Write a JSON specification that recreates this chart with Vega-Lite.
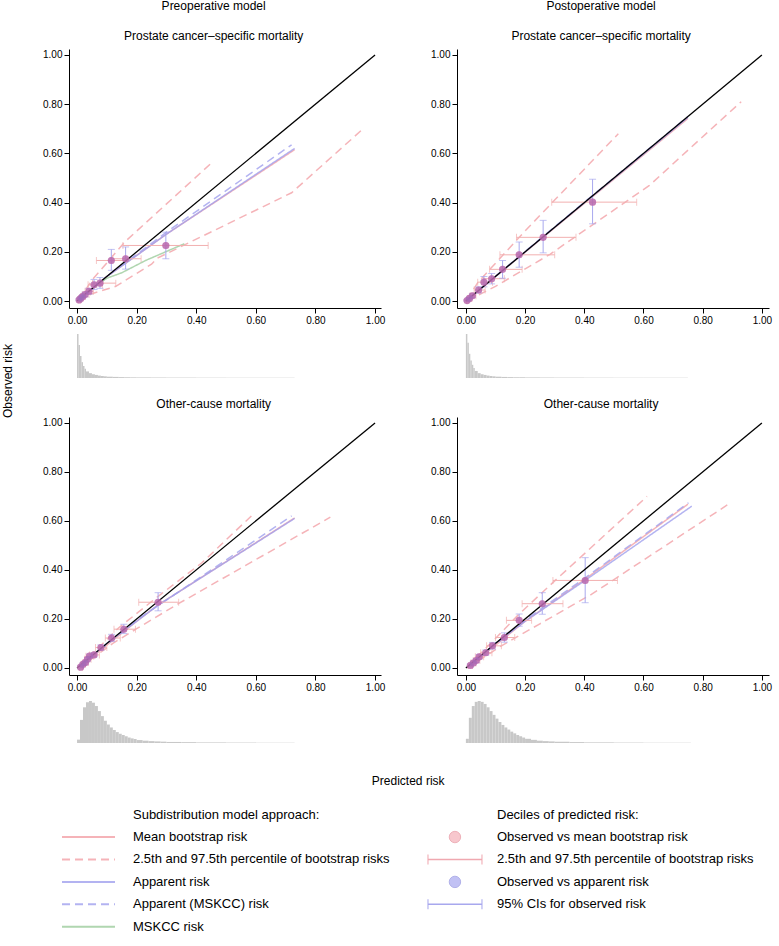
{
"$schema": "https://vega.github.io/schema/vega-lite/v6.json",
"padding": 0,
"background": "white",
"config": {
  "font": "Liberation Sans, Arial, sans-serif",
  "view": {"stroke": null},
  "text": {"color": "#000"},
  "axis": {"grid": false, "domainColor": "#000", "tickColor": "#000", "labelColor": "#000", "labelFontSize": 10, "tickSize": 5, "labelPadding": 2, "domainWidth": 1, "tickWidth": 1},
  "title": {"fontSize": 12, "fontWeight": "normal", "color": "#000", "anchor": "middle", "frame": "bounds", "offset": 6}
},
"datasets": {
  "diag": [{"x": 0, "y": 0}, {"x": 1, "y": 1}],
  "curves": [
    {"p":"A","s":"m","id":"m","x":0.005,"y":0.004},{"p":"A","s":"m","id":"m","x":0.1,"y":0.1},{"p":"A","s":"m","id":"m","x":0.3,"y":0.272},{"p":"A","s":"m","id":"m","x":0.73,"y":0.615},
    {"p":"A","s":"q","id":"lo","x":0.004,"y":0.002},{"p":"A","s":"q","id":"lo","x":0.05,"y":0.03},{"p":"A","s":"q","id":"lo","x":0.13,"y":0.06},{"p":"A","s":"q","id":"lo","x":0.25,"y":0.15},{"p":"A","s":"q","id":"lo","x":0.27,"y":0.175},{"p":"A","s":"q","id":"lo","x":0.72,"y":0.44},{"p":"A","s":"q","id":"lo","x":0.96,"y":0.7},
    {"p":"A","s":"q","id":"hi","x":0.004,"y":0.004},{"p":"A","s":"q","id":"hi","x":0.02,"y":0.03},{"p":"A","s":"q","id":"hi","x":0.05,"y":0.085},{"p":"A","s":"q","id":"hi","x":0.16,"y":0.24},{"p":"A","s":"q","id":"hi","x":0.45,"y":0.56},
    {"p":"A","s":"a","id":"a","x":0.005,"y":0.004},{"p":"A","s":"a","id":"a","x":0.05,"y":0.05},{"p":"A","s":"a","id":"a","x":0.1,"y":0.1},{"p":"A","s":"a","id":"a","x":0.2,"y":0.185},{"p":"A","s":"a","id":"a","x":0.3,"y":0.272},{"p":"A","s":"a","id":"a","x":0.73,"y":0.62},
    {"p":"A","s":"am","id":"am","x":0.005,"y":0.005},{"p":"A","s":"am","id":"am","x":0.1,"y":0.1},{"p":"A","s":"am","id":"am","x":0.3,"y":0.28},{"p":"A","s":"am","id":"am","x":0.72,"y":0.635},
    {"p":"A","s":"k","id":"k","x":0.005,"y":0.005},{"p":"A","s":"k","id":"k","x":0.05,"y":0.05},{"p":"A","s":"k","id":"k","x":0.1,"y":0.093},{"p":"A","s":"k","id":"k","x":0.15,"y":0.115},{"p":"A","s":"k","id":"k","x":0.23,"y":0.165},{"p":"A","s":"k","id":"k","x":0.36,"y":0.233},

    {"p":"B","s":"m","id":"m","x":0.003,"y":0.003},{"p":"B","s":"m","id":"m","x":0.3,"y":0.298},{"p":"B","s":"m","id":"m","x":0.75,"y":0.742},
    {"p":"B","s":"q","id":"lo","x":0.005,"y":0.002},{"p":"B","s":"q","id":"lo","x":0.1,"y":0.06},{"p":"B","s":"q","id":"lo","x":0.284,"y":0.19},{"p":"B","s":"q","id":"lo","x":0.62,"y":0.47},{"p":"B","s":"q","id":"lo","x":0.93,"y":0.81},
    {"p":"B","s":"q","id":"hi","x":0.003,"y":0.004},{"p":"B","s":"q","id":"hi","x":0.04,"y":0.075},{"p":"B","s":"q","id":"hi","x":0.2,"y":0.285},{"p":"B","s":"q","id":"hi","x":0.515,"y":0.68},
    {"p":"B","s":"a","id":"a","x":0.003,"y":0.003},{"p":"B","s":"a","id":"a","x":0.3,"y":0.3},{"p":"B","s":"a","id":"a","x":0.75,"y":0.746},
    {"p":"B","s":"am","id":"am","x":0.003,"y":0.003},{"p":"B","s":"am","id":"am","x":0.3,"y":0.302},{"p":"B","s":"am","id":"am","x":0.75,"y":0.75},

    {"p":"C","s":"m","id":"m","x":0.008,"y":0.003},{"p":"C","s":"m","id":"m","x":0.2,"y":0.19},{"p":"C","s":"m","id":"m","x":0.27,"y":0.255},{"p":"C","s":"m","id":"m","x":0.73,"y":0.612},
    {"p":"C","s":"q","id":"lo","x":0.008,"y":0.0},{"p":"C","s":"q","id":"lo","x":0.12,"y":0.1},{"p":"C","s":"q","id":"lo","x":0.2,"y":0.16},{"p":"C","s":"q","id":"lo","x":0.34,"y":0.262},{"p":"C","s":"q","id":"lo","x":0.85,"y":0.615},
    {"p":"C","s":"q","id":"hi","x":0.008,"y":0.005},{"p":"C","s":"q","id":"hi","x":0.14,"y":0.164},{"p":"C","s":"q","id":"hi","x":0.27,"y":0.29},{"p":"C","s":"q","id":"hi","x":0.42,"y":0.43},{"p":"C","s":"q","id":"hi","x":0.59,"y":0.626},
    {"p":"C","s":"a","id":"a","x":0.008,"y":0.003},{"p":"C","s":"a","id":"a","x":0.1,"y":0.1},{"p":"C","s":"a","id":"a","x":0.2,"y":0.19},{"p":"C","s":"a","id":"a","x":0.27,"y":0.255},{"p":"C","s":"a","id":"a","x":0.73,"y":0.61},
    {"p":"C","s":"am","id":"am","x":0.008,"y":0.003},{"p":"C","s":"am","id":"am","x":0.2,"y":0.195},{"p":"C","s":"am","id":"am","x":0.72,"y":0.62},

    {"p":"D","s":"m","id":"m","x":0.01,"y":0.005},{"p":"D","s":"m","id":"m","x":0.2,"y":0.19},{"p":"D","s":"m","id":"m","x":0.4,"y":0.36},{"p":"D","s":"m","id":"m","x":0.75,"y":0.668},
    {"p":"D","s":"q","id":"lo","x":0.005,"y":0.0},{"p":"D","s":"q","id":"lo","x":0.12,"y":0.09},{"p":"D","s":"q","id":"lo","x":0.25,"y":0.18},{"p":"D","s":"q","id":"lo","x":0.424,"y":0.3},{"p":"D","s":"q","id":"lo","x":0.883,"y":0.665},
    {"p":"D","s":"q","id":"hi","x":0.005,"y":0.005},{"p":"D","s":"q","id":"hi","x":0.1,"y":0.12},{"p":"D","s":"q","id":"hi","x":0.18,"y":0.22},{"p":"D","s":"q","id":"hi","x":0.3,"y":0.355},{"p":"D","s":"q","id":"hi","x":0.612,"y":0.7},
    {"p":"D","s":"a","id":"a","x":0.01,"y":0.005},{"p":"D","s":"a","id":"a","x":0.1,"y":0.1},{"p":"D","s":"a","id":"a","x":0.2,"y":0.19},{"p":"D","s":"a","id":"a","x":0.4,"y":0.355},{"p":"D","s":"a","id":"a","x":0.763,"y":0.66},
    {"p":"D","s":"am","id":"am","x":0.01,"y":0.006},{"p":"D","s":"am","id":"am","x":0.2,"y":0.195},{"p":"D","s":"am","id":"am","x":0.4,"y":0.365},{"p":"D","s":"am","id":"am","x":0.752,"y":0.674}
  ],
  "dec": [
    {"p":"A","x":0.007,"y":0.005,"xlo":0.004,"xhi":0.012,"ylo":0.002,"yhi":0.009},
    {"p":"A","x":0.013,"y":0.012,"xlo":0.008,"xhi":0.02,"ylo":0.007,"yhi":0.017},
    {"p":"A","x":0.019,"y":0.019,"xlo":0.012,"xhi":0.028,"ylo":0.012,"yhi":0.026},
    {"p":"A","x":0.027,"y":0.027,"xlo":0.018,"xhi":0.04,"ylo":0.018,"yhi":0.036},
    {"p":"A","x":0.04,"y":0.04,"xlo":0.027,"xhi":0.055,"ylo":0.028,"yhi":0.052},
    {"p":"A","x":0.057,"y":0.066,"xlo":0.037,"xhi":0.085,"ylo":0.047,"yhi":0.088},
    {"p":"A","x":0.077,"y":0.073,"xlo":0.052,"xhi":0.13,"ylo":0.052,"yhi":0.096},
    {"p":"A","x":0.115,"y":0.165,"xlo":0.065,"xhi":0.165,"ylo":0.125,"yhi":0.21},
    {"p":"A","x":0.163,"y":0.172,"xlo":0.12,"xhi":0.215,"ylo":0.13,"yhi":0.22},
    {"p":"A","x":0.298,"y":0.226,"xlo":0.154,"xhi":0.44,"ylo":0.172,"yhi":0.28},

    {"p":"B","x":0.004,"y":0.002,"xlo":0.002,"xhi":0.008,"ylo":0.0,"yhi":0.006},
    {"p":"B","x":0.012,"y":0.011,"xlo":0.007,"xhi":0.02,"ylo":0.006,"yhi":0.017},
    {"p":"B","x":0.022,"y":0.022,"xlo":0.014,"xhi":0.034,"ylo":0.015,"yhi":0.03},
    {"p":"B","x":0.043,"y":0.045,"xlo":0.028,"xhi":0.065,"ylo":0.033,"yhi":0.058},
    {"p":"B","x":0.061,"y":0.077,"xlo":0.04,"xhi":0.09,"ylo":0.058,"yhi":0.1},
    {"p":"B","x":0.087,"y":0.091,"xlo":0.06,"xhi":0.13,"ylo":0.07,"yhi":0.112},
    {"p":"B","x":0.124,"y":0.129,"xlo":0.08,"xhi":0.19,"ylo":0.093,"yhi":0.165},
    {"p":"B","x":0.18,"y":0.188,"xlo":0.115,"xhi":0.3,"ylo":0.138,"yhi":0.24},
    {"p":"B","x":0.261,"y":0.259,"xlo":0.171,"xhi":0.372,"ylo":0.196,"yhi":0.328},
    {"p":"B","x":0.428,"y":0.402,"xlo":0.29,"xhi":0.577,"ylo":0.314,"yhi":0.495},

    {"p":"C","x":0.012,"y":0.003,"xlo":0.008,"xhi":0.018,"ylo":0.0,"yhi":0.008},
    {"p":"C","x":0.02,"y":0.015,"xlo":0.014,"xhi":0.028,"ylo":0.01,"yhi":0.021},
    {"p":"C","x":0.028,"y":0.022,"xlo":0.02,"xhi":0.038,"ylo":0.016,"yhi":0.028},
    {"p":"C","x":0.035,"y":0.035,"xlo":0.025,"xhi":0.047,"ylo":0.028,"yhi":0.042},
    {"p":"C","x":0.042,"y":0.048,"xlo":0.03,"xhi":0.056,"ylo":0.04,"yhi":0.056},
    {"p":"C","x":0.057,"y":0.053,"xlo":0.042,"xhi":0.075,"ylo":0.045,"yhi":0.062},
    {"p":"C","x":0.08,"y":0.083,"xlo":0.062,"xhi":0.1,"ylo":0.072,"yhi":0.094},
    {"p":"C","x":0.116,"y":0.122,"xlo":0.095,"xhi":0.145,"ylo":0.108,"yhi":0.137},
    {"p":"C","x":0.157,"y":0.158,"xlo":0.124,"xhi":0.196,"ylo":0.14,"yhi":0.178},
    {"p":"C","x":0.272,"y":0.268,"xlo":0.207,"xhi":0.341,"ylo":0.233,"yhi":0.307},

    {"p":"D","x":0.015,"y":0.01,"xlo":0.01,"xhi":0.022,"ylo":0.004,"yhi":0.016},
    {"p":"D","x":0.025,"y":0.02,"xlo":0.017,"xhi":0.034,"ylo":0.013,"yhi":0.027},
    {"p":"D","x":0.035,"y":0.03,"xlo":0.025,"xhi":0.047,"ylo":0.022,"yhi":0.038},
    {"p":"D","x":0.045,"y":0.045,"xlo":0.032,"xhi":0.06,"ylo":0.036,"yhi":0.055},
    {"p":"D","x":0.067,"y":0.062,"xlo":0.05,"xhi":0.088,"ylo":0.052,"yhi":0.073},
    {"p":"D","x":0.09,"y":0.09,"xlo":0.07,"xhi":0.12,"ylo":0.077,"yhi":0.104},
    {"p":"D","x":0.13,"y":0.124,"xlo":0.1,"xhi":0.165,"ylo":0.105,"yhi":0.143},
    {"p":"D","x":0.18,"y":0.194,"xlo":0.137,"xhi":0.222,"ylo":0.17,"yhi":0.22},
    {"p":"D","x":0.258,"y":0.262,"xlo":0.19,"xhi":0.328,"ylo":0.219,"yhi":0.307},
    {"p":"D","x":0.403,"y":0.357,"xlo":0.294,"xhi":0.512,"ylo":0.266,"yhi":0.45}
  ],
  "hist": [
    {"p":"A","x0":0,"x1":0.005,"n":100},{"p":"A","x0":0.005,"x1":0.01,"n":75},{"p":"A","x0":0.01,"x1":0.015,"n":50},{"p":"A","x0":0.015,"x1":0.02,"n":36},{"p":"A","x0":0.02,"x1":0.025,"n":27},{"p":"A","x0":0.025,"x1":0.03,"n":21},{"p":"A","x0":0.03,"x1":0.04,"n":15},{"p":"A","x0":0.04,"x1":0.05,"n":11},{"p":"A","x0":0.05,"x1":0.06,"n":8.5},{"p":"A","x0":0.06,"x1":0.07,"n":7},{"p":"A","x0":0.07,"x1":0.08,"n":5.5},{"p":"A","x0":0.08,"x1":0.09,"n":4.5},{"p":"A","x0":0.09,"x1":0.1,"n":3.8},{"p":"A","x0":0.1,"x1":0.12,"n":3},{"p":"A","x0":0.12,"x1":0.14,"n":2.5},{"p":"A","x0":0.14,"x1":0.16,"n":2},{"p":"A","x0":0.16,"x1":0.18,"n":1.7},{"p":"A","x0":0.18,"x1":0.2,"n":1.5},{"p":"A","x0":0.2,"x1":0.25,"n":1.3},{"p":"A","x0":0.25,"x1":0.3,"n":1.1},{"p":"A","x0":0.3,"x1":0.4,"n":0.9},{"p":"A","x0":0.4,"x1":0.5,"n":0.7},{"p":"A","x0":0.5,"x1":0.6,"n":0.6},{"p":"A","x0":0.6,"x1":0.73,"n":0.5},
    {"p":"B","x0":0,"x1":0.005,"n":100},{"p":"B","x0":0.005,"x1":0.01,"n":80},{"p":"B","x0":0.01,"x1":0.015,"n":55},{"p":"B","x0":0.015,"x1":0.02,"n":40},{"p":"B","x0":0.02,"x1":0.025,"n":30},{"p":"B","x0":0.025,"x1":0.03,"n":23},{"p":"B","x0":0.03,"x1":0.04,"n":16},{"p":"B","x0":0.04,"x1":0.05,"n":11},{"p":"B","x0":0.05,"x1":0.06,"n":8.5},{"p":"B","x0":0.06,"x1":0.07,"n":7},{"p":"B","x0":0.07,"x1":0.08,"n":5.5},{"p":"B","x0":0.08,"x1":0.09,"n":4.5},{"p":"B","x0":0.09,"x1":0.1,"n":3.8},{"p":"B","x0":0.1,"x1":0.12,"n":3},{"p":"B","x0":0.12,"x1":0.14,"n":2.4},{"p":"B","x0":0.14,"x1":0.16,"n":2},{"p":"B","x0":0.16,"x1":0.18,"n":1.7},{"p":"B","x0":0.18,"x1":0.2,"n":1.5},{"p":"B","x0":0.2,"x1":0.25,"n":1.3},{"p":"B","x0":0.25,"x1":0.3,"n":1.1},{"p":"B","x0":0.3,"x1":0.4,"n":0.9},{"p":"B","x0":0.4,"x1":0.5,"n":0.7},{"p":"B","x0":0.5,"x1":0.6,"n":0.6},{"p":"B","x0":0.6,"x1":0.75,"n":0.5},
    {"p":"C","x0":0,"x1":0.01,"n":8},{"p":"C","x0":0.01,"x1":0.02,"n":55},{"p":"C","x0":0.02,"x1":0.03,"n":85},{"p":"C","x0":0.03,"x1":0.04,"n":97},{"p":"C","x0":0.04,"x1":0.05,"n":100},{"p":"C","x0":0.05,"x1":0.06,"n":96},{"p":"C","x0":0.06,"x1":0.07,"n":88},{"p":"C","x0":0.07,"x1":0.08,"n":76},{"p":"C","x0":0.08,"x1":0.09,"n":64},{"p":"C","x0":0.09,"x1":0.1,"n":53},{"p":"C","x0":0.1,"x1":0.11,"n":44},{"p":"C","x0":0.11,"x1":0.12,"n":37},{"p":"C","x0":0.12,"x1":0.13,"n":31},{"p":"C","x0":0.13,"x1":0.14,"n":26},{"p":"C","x0":0.14,"x1":0.15,"n":22},{"p":"C","x0":0.15,"x1":0.16,"n":19},{"p":"C","x0":0.16,"x1":0.17,"n":16},{"p":"C","x0":0.17,"x1":0.18,"n":13},{"p":"C","x0":0.18,"x1":0.19,"n":11},{"p":"C","x0":0.19,"x1":0.2,"n":9.5},{"p":"C","x0":0.2,"x1":0.22,"n":7},{"p":"C","x0":0.22,"x1":0.24,"n":5.5},{"p":"C","x0":0.24,"x1":0.26,"n":4.5},{"p":"C","x0":0.26,"x1":0.28,"n":3.8},{"p":"C","x0":0.28,"x1":0.3,"n":3.2},{"p":"C","x0":0.3,"x1":0.35,"n":2.5},{"p":"C","x0":0.35,"x1":0.4,"n":2},{"p":"C","x0":0.4,"x1":0.5,"n":1.4},{"p":"C","x0":0.5,"x1":0.6,"n":1},{"p":"C","x0":0.6,"x1":0.73,"n":0.6},
    {"p":"D","x0":0,"x1":0.01,"n":10},{"p":"D","x0":0.01,"x1":0.02,"n":60},{"p":"D","x0":0.02,"x1":0.03,"n":88},{"p":"D","x0":0.03,"x1":0.04,"n":98},{"p":"D","x0":0.04,"x1":0.05,"n":100},{"p":"D","x0":0.05,"x1":0.06,"n":98},{"p":"D","x0":0.06,"x1":0.07,"n":93},{"p":"D","x0":0.07,"x1":0.08,"n":85},{"p":"D","x0":0.08,"x1":0.09,"n":76},{"p":"D","x0":0.09,"x1":0.1,"n":67},{"p":"D","x0":0.1,"x1":0.11,"n":58},{"p":"D","x0":0.11,"x1":0.12,"n":50},{"p":"D","x0":0.12,"x1":0.13,"n":43},{"p":"D","x0":0.13,"x1":0.14,"n":37},{"p":"D","x0":0.14,"x1":0.15,"n":32},{"p":"D","x0":0.15,"x1":0.16,"n":27},{"p":"D","x0":0.16,"x1":0.17,"n":23},{"p":"D","x0":0.17,"x1":0.18,"n":19},{"p":"D","x0":0.18,"x1":0.19,"n":16},{"p":"D","x0":0.19,"x1":0.2,"n":13},{"p":"D","x0":0.2,"x1":0.22,"n":10},{"p":"D","x0":0.22,"x1":0.24,"n":7.5},{"p":"D","x0":0.24,"x1":0.26,"n":5.5},{"p":"D","x0":0.26,"x1":0.28,"n":4.5},{"p":"D","x0":0.28,"x1":0.3,"n":3.8},{"p":"D","x0":0.3,"x1":0.35,"n":3},{"p":"D","x0":0.35,"x1":0.4,"n":2.2},{"p":"D","x0":0.4,"x1":0.5,"n":1.5},{"p":"D","x0":0.5,"x1":0.6,"n":1},{"p":"D","x0":0.6,"x1":0.76,"n":0.6}
  ],
  "leg": [
    {"c":"L","r":0,"label":"Subdistribution model approach:"},
    {"c":"L","r":1,"s":"m","label":"Mean bootstrap risk"},
    {"c":"L","r":2,"s":"q","label":"2.5th and 97.5th percentile of bootstrap risks"},
    {"c":"L","r":3,"s":"a","label":"Apparent risk"},
    {"c":"L","r":4,"s":"am","label":"Apparent (MSKCC) risk"},
    {"c":"L","r":5,"s":"k","label":"MSKCC risk"},
    {"c":"R","r":0,"label":"Deciles of predicted risk:"},
    {"c":"R","r":1,"k":"pc","label":"Observed vs mean bootstrap risk"},
    {"c":"R","r":2,"k":"pb","label":"2.5th and 97.5th percentile of bootstrap risks"},
    {"c":"R","r":3,"k":"bc","label":"Observed vs apparent risk"},
    {"c":"R","r":4,"k":"bb","label":"95% CIs for observed risk"}
  ]
},
"spacing": 20,
"vconcat": [
  {
    "spacing": 26,
    "hconcat": [
      {"width": 16, "height": 664, "data": {"values": [{"t": "Observed risk"}]},
       "mark": {"type": "text", "angle": 270, "fontSize": 12, "align": "center", "baseline": "middle"},
       "encoding": {"text": {"field": "t"}}},
      {
        "spacing": 45,
        "hconcat": [
          {
            "title": {"text": "Preoperative model", "offset": 17},
            "spacing": 20,
            "vconcat": [
              {
                "spacing": 9,
                "vconcat": [
                  {
                    "title": {"text": "Prostate cancer–specific mortality"},
                    "width": 312, "height": 259,
                    "layer": [
                      {"data": {"name": "curves"}, "transform": [{"filter": "datum.p==='A'"}],
                       "mark": {"type": "line", "strokeWidth": 1.5, "opacity": 0.8},
                       "encoding": {
                         "x": {"field": "x", "type": "quantitative", "scale": {"domain": [-0.027, 1.02], "nice": false, "zero": false}, "axis": {"values": [0, 0.2, 0.4, 0.6, 0.8, 1], "format": ".2f"}, "title": null},
                         "y": {"field": "y", "type": "quantitative", "scale": {"domain": [-0.028, 1.024], "nice": false, "zero": false}, "axis": {"values": [0, 0.2, 0.4, 0.6, 0.8, 1], "format": ".2f"}, "title": null},
                         "color": {"field": "s", "type": "nominal", "scale": {"domain": ["m", "q", "a", "am", "k"], "range": ["#f2a0a6", "#f2a0a6", "#a0a0ee", "#a0a0ee", "#9ccc9c"]}, "legend": null},
                         "strokeDash": {"field": "s", "type": "nominal", "scale": {"domain": ["m", "q", "a", "am", "k"], "range": [[1, 0], [8, 5], [1, 0], [8, 5], [1, 0]]}, "legend": null},
                         "detail": {"field": "id", "type": "nominal"}}},
                      {"data": {"name": "dec"}, "transform": [{"filter": "datum.p==='A'"}], "mark": {"type": "rule", "color": "#f2b0b0", "strokeWidth": 1},
                       "encoding": {"x": {"field": "xlo", "type": "quantitative", "title": null}, "x2": {"field": "xhi"}, "y": {"field": "y", "type": "quantitative", "title": null}}},
                      {"data": {"name": "dec"}, "transform": [{"filter": "datum.p==='A'"}], "mark": {"type": "tick", "orient": "vertical", "color": "#f2b0b0", "size": 7, "thickness": 1},
                       "encoding": {"x": {"field": "xlo", "type": "quantitative", "title": null}, "y": {"field": "y", "type": "quantitative", "title": null}}},
                      {"data": {"name": "dec"}, "transform": [{"filter": "datum.p==='A'"}], "mark": {"type": "tick", "orient": "vertical", "color": "#f2b0b0", "size": 7, "thickness": 1},
                       "encoding": {"x": {"field": "xhi", "type": "quantitative", "title": null}, "y": {"field": "y", "type": "quantitative", "title": null}}},
                      {"data": {"name": "dec"}, "transform": [{"filter": "datum.p==='A'"}], "mark": {"type": "rule", "color": "#a8a8ee", "strokeWidth": 1},
                       "encoding": {"x": {"field": "x", "type": "quantitative", "title": null}, "y": {"field": "ylo", "type": "quantitative", "title": null}, "y2": {"field": "yhi"}}},
                      {"data": {"name": "dec"}, "transform": [{"filter": "datum.p==='A'"}], "mark": {"type": "tick", "orient": "horizontal", "color": "#a8a8ee", "size": 7, "thickness": 1},
                       "encoding": {"x": {"field": "x", "type": "quantitative", "title": null}, "y": {"field": "ylo", "type": "quantitative", "title": null}}},
                      {"data": {"name": "dec"}, "transform": [{"filter": "datum.p==='A'"}], "mark": {"type": "tick", "orient": "horizontal", "color": "#a8a8ee", "size": 7, "thickness": 1},
                       "encoding": {"x": {"field": "x", "type": "quantitative", "title": null}, "y": {"field": "yhi", "type": "quantitative", "title": null}}},
                      {"data": {"name": "diag"}, "mark": {"type": "line", "color": "#000", "strokeWidth": 1.3},
                       "encoding": {"x": {"field": "x", "type": "quantitative", "title": null}, "y": {"field": "y", "type": "quantitative", "title": null}}},
                      {"data": {"name": "dec"}, "transform": [{"filter": "datum.p==='A'"}], "mark": {"type": "point", "filled": true, "color": "#d8689c", "opacity": 0.8, "size": 50},
                       "encoding": {"x": {"field": "x", "type": "quantitative", "title": null}, "y": {"field": "y", "type": "quantitative", "title": null}}},
                      {"data": {"name": "dec"}, "transform": [{"filter": "datum.p==='A'"}], "mark": {"type": "point", "filled": true, "color": "#8a6cc8", "opacity": 0.35, "size": 50},
                       "encoding": {"x": {"field": "x", "type": "quantitative", "title": null}, "y": {"field": "y", "type": "quantitative", "title": null}}}
                    ]
                  },
                  {"width": 312, "height": 44, "data": {"name": "hist"}, "transform": [{"filter": "datum.p==='A'"}],
                   "mark": {"type": "rect", "color": "#c8c8c8"},
                   "encoding": {"x": {"field": "x0", "type": "quantitative", "scale": {"domain": [-0.027, 1.02], "nice": false, "zero": false}, "axis": null}, "x2": {"field": "x1"},
                     "y": {"field": "n", "type": "quantitative", "scale": {"domain": [0, 100], "nice": false}, "axis": null}, "y2": {"datum": 0}}}
                ]
              },
              {
                "spacing": 9,
                "vconcat": [
                  {
                    "title": {"text": "Other-cause mortality"},
                    "width": 312, "height": 258,
                    "layer": [
                      {"data": {"name": "curves"}, "transform": [{"filter": "datum.p==='C'"}],
                       "mark": {"type": "line", "strokeWidth": 1.5, "opacity": 0.8},
                       "encoding": {
                         "x": {"field": "x", "type": "quantitative", "scale": {"domain": [-0.027, 1.02], "nice": false, "zero": false}, "axis": {"values": [0, 0.2, 0.4, 0.6, 0.8, 1], "format": ".2f"}, "title": null},
                         "y": {"field": "y", "type": "quantitative", "scale": {"domain": [-0.029, 1.024], "nice": false, "zero": false}, "axis": {"values": [0, 0.2, 0.4, 0.6, 0.8, 1], "format": ".2f"}, "title": null},
                         "color": {"field": "s", "type": "nominal", "scale": {"domain": ["m", "q", "a", "am", "k"], "range": ["#f2a0a6", "#f2a0a6", "#a0a0ee", "#a0a0ee", "#9ccc9c"]}, "legend": null},
                         "strokeDash": {"field": "s", "type": "nominal", "scale": {"domain": ["m", "q", "a", "am", "k"], "range": [[1, 0], [8, 5], [1, 0], [8, 5], [1, 0]]}, "legend": null},
                         "detail": {"field": "id", "type": "nominal"}}},
                      {"data": {"name": "dec"}, "transform": [{"filter": "datum.p==='C'"}], "mark": {"type": "rule", "color": "#f2b0b0", "strokeWidth": 1},
                       "encoding": {"x": {"field": "xlo", "type": "quantitative", "title": null}, "x2": {"field": "xhi"}, "y": {"field": "y", "type": "quantitative", "title": null}}},
                      {"data": {"name": "dec"}, "transform": [{"filter": "datum.p==='C'"}], "mark": {"type": "tick", "orient": "vertical", "color": "#f2b0b0", "size": 7, "thickness": 1},
                       "encoding": {"x": {"field": "xlo", "type": "quantitative", "title": null}, "y": {"field": "y", "type": "quantitative", "title": null}}},
                      {"data": {"name": "dec"}, "transform": [{"filter": "datum.p==='C'"}], "mark": {"type": "tick", "orient": "vertical", "color": "#f2b0b0", "size": 7, "thickness": 1},
                       "encoding": {"x": {"field": "xhi", "type": "quantitative", "title": null}, "y": {"field": "y", "type": "quantitative", "title": null}}},
                      {"data": {"name": "dec"}, "transform": [{"filter": "datum.p==='C'"}], "mark": {"type": "rule", "color": "#a8a8ee", "strokeWidth": 1},
                       "encoding": {"x": {"field": "x", "type": "quantitative", "title": null}, "y": {"field": "ylo", "type": "quantitative", "title": null}, "y2": {"field": "yhi"}}},
                      {"data": {"name": "dec"}, "transform": [{"filter": "datum.p==='C'"}], "mark": {"type": "tick", "orient": "horizontal", "color": "#a8a8ee", "size": 7, "thickness": 1},
                       "encoding": {"x": {"field": "x", "type": "quantitative", "title": null}, "y": {"field": "ylo", "type": "quantitative", "title": null}}},
                      {"data": {"name": "dec"}, "transform": [{"filter": "datum.p==='C'"}], "mark": {"type": "tick", "orient": "horizontal", "color": "#a8a8ee", "size": 7, "thickness": 1},
                       "encoding": {"x": {"field": "x", "type": "quantitative", "title": null}, "y": {"field": "yhi", "type": "quantitative", "title": null}}},
                      {"data": {"name": "diag"}, "mark": {"type": "line", "color": "#000", "strokeWidth": 1.3},
                       "encoding": {"x": {"field": "x", "type": "quantitative", "title": null}, "y": {"field": "y", "type": "quantitative", "title": null}}},
                      {"data": {"name": "dec"}, "transform": [{"filter": "datum.p==='C'"}], "mark": {"type": "point", "filled": true, "color": "#d8689c", "opacity": 0.8, "size": 50},
                       "encoding": {"x": {"field": "x", "type": "quantitative", "title": null}, "y": {"field": "y", "type": "quantitative", "title": null}}},
                      {"data": {"name": "dec"}, "transform": [{"filter": "datum.p==='C'"}], "mark": {"type": "point", "filled": true, "color": "#8a6cc8", "opacity": 0.35, "size": 50},
                       "encoding": {"x": {"field": "x", "type": "quantitative", "title": null}, "y": {"field": "y", "type": "quantitative", "title": null}}}
                    ]
                  },
                  {"width": 312, "height": 42, "data": {"name": "hist"}, "transform": [{"filter": "datum.p==='C'"}],
                   "mark": {"type": "rect", "color": "#c8c8c8"},
                   "encoding": {"x": {"field": "x0", "type": "quantitative", "scale": {"domain": [-0.027, 1.02], "nice": false, "zero": false}, "axis": null}, "x2": {"field": "x1"},
                     "y": {"field": "n", "type": "quantitative", "scale": {"domain": [0, 100], "nice": false}, "axis": null}, "y2": {"datum": 0}}}
                ]
              }
            ]
          },
          {
            "title": {"text": "Postoperative model", "offset": 17},
            "spacing": 20,
            "vconcat": [
              {
                "spacing": 9,
                "vconcat": [
                  {
                    "title": {"text": "Prostate cancer–specific mortality"},
                    "width": 312, "height": 259,
                    "layer": [
                      {"data": {"name": "curves"}, "transform": [{"filter": "datum.p==='B'"}],
                       "mark": {"type": "line", "strokeWidth": 1.5, "opacity": 0.8},
                       "encoding": {
                         "x": {"field": "x", "type": "quantitative", "scale": {"domain": [-0.03, 1.024], "nice": false, "zero": false}, "axis": {"values": [0, 0.2, 0.4, 0.6, 0.8, 1], "format": ".2f"}, "title": null},
                         "y": {"field": "y", "type": "quantitative", "scale": {"domain": [-0.028, 1.024], "nice": false, "zero": false}, "axis": {"values": [0, 0.2, 0.4, 0.6, 0.8, 1], "format": ".2f"}, "title": null},
                         "color": {"field": "s", "type": "nominal", "scale": {"domain": ["m", "q", "a", "am", "k"], "range": ["#f2a0a6", "#f2a0a6", "#a0a0ee", "#a0a0ee", "#9ccc9c"]}, "legend": null},
                         "strokeDash": {"field": "s", "type": "nominal", "scale": {"domain": ["m", "q", "a", "am", "k"], "range": [[1, 0], [8, 5], [1, 0], [8, 5], [1, 0]]}, "legend": null},
                         "detail": {"field": "id", "type": "nominal"}}},
                      {"data": {"name": "dec"}, "transform": [{"filter": "datum.p==='B'"}], "mark": {"type": "rule", "color": "#f2b0b0", "strokeWidth": 1},
                       "encoding": {"x": {"field": "xlo", "type": "quantitative", "title": null}, "x2": {"field": "xhi"}, "y": {"field": "y", "type": "quantitative", "title": null}}},
                      {"data": {"name": "dec"}, "transform": [{"filter": "datum.p==='B'"}], "mark": {"type": "tick", "orient": "vertical", "color": "#f2b0b0", "size": 7, "thickness": 1},
                       "encoding": {"x": {"field": "xlo", "type": "quantitative", "title": null}, "y": {"field": "y", "type": "quantitative", "title": null}}},
                      {"data": {"name": "dec"}, "transform": [{"filter": "datum.p==='B'"}], "mark": {"type": "tick", "orient": "vertical", "color": "#f2b0b0", "size": 7, "thickness": 1},
                       "encoding": {"x": {"field": "xhi", "type": "quantitative", "title": null}, "y": {"field": "y", "type": "quantitative", "title": null}}},
                      {"data": {"name": "dec"}, "transform": [{"filter": "datum.p==='B'"}], "mark": {"type": "rule", "color": "#a8a8ee", "strokeWidth": 1},
                       "encoding": {"x": {"field": "x", "type": "quantitative", "title": null}, "y": {"field": "ylo", "type": "quantitative", "title": null}, "y2": {"field": "yhi"}}},
                      {"data": {"name": "dec"}, "transform": [{"filter": "datum.p==='B'"}], "mark": {"type": "tick", "orient": "horizontal", "color": "#a8a8ee", "size": 7, "thickness": 1},
                       "encoding": {"x": {"field": "x", "type": "quantitative", "title": null}, "y": {"field": "ylo", "type": "quantitative", "title": null}}},
                      {"data": {"name": "dec"}, "transform": [{"filter": "datum.p==='B'"}], "mark": {"type": "tick", "orient": "horizontal", "color": "#a8a8ee", "size": 7, "thickness": 1},
                       "encoding": {"x": {"field": "x", "type": "quantitative", "title": null}, "y": {"field": "yhi", "type": "quantitative", "title": null}}},
                      {"data": {"name": "diag"}, "mark": {"type": "line", "color": "#000", "strokeWidth": 1.3},
                       "encoding": {"x": {"field": "x", "type": "quantitative", "title": null}, "y": {"field": "y", "type": "quantitative", "title": null}}},
                      {"data": {"name": "dec"}, "transform": [{"filter": "datum.p==='B'"}], "mark": {"type": "point", "filled": true, "color": "#d8689c", "opacity": 0.8, "size": 50},
                       "encoding": {"x": {"field": "x", "type": "quantitative", "title": null}, "y": {"field": "y", "type": "quantitative", "title": null}}},
                      {"data": {"name": "dec"}, "transform": [{"filter": "datum.p==='B'"}], "mark": {"type": "point", "filled": true, "color": "#8a6cc8", "opacity": 0.35, "size": 50},
                       "encoding": {"x": {"field": "x", "type": "quantitative", "title": null}, "y": {"field": "y", "type": "quantitative", "title": null}}}
                    ]
                  },
                  {"width": 312, "height": 44, "data": {"name": "hist"}, "transform": [{"filter": "datum.p==='B'"}],
                   "mark": {"type": "rect", "color": "#c8c8c8"},
                   "encoding": {"x": {"field": "x0", "type": "quantitative", "scale": {"domain": [-0.03, 1.024], "nice": false, "zero": false}, "axis": null}, "x2": {"field": "x1"},
                     "y": {"field": "n", "type": "quantitative", "scale": {"domain": [0, 100], "nice": false}, "axis": null}, "y2": {"datum": 0}}}
                ]
              },
              {
                "spacing": 9,
                "vconcat": [
                  {
                    "title": {"text": "Other-cause mortality"},
                    "width": 312, "height": 258,
                    "layer": [
                      {"data": {"name": "curves"}, "transform": [{"filter": "datum.p==='D'"}],
                       "mark": {"type": "line", "strokeWidth": 1.5, "opacity": 0.8},
                       "encoding": {
                         "x": {"field": "x", "type": "quantitative", "scale": {"domain": [-0.03, 1.024], "nice": false, "zero": false}, "axis": {"values": [0, 0.2, 0.4, 0.6, 0.8, 1], "format": ".2f"}, "title": null},
                         "y": {"field": "y", "type": "quantitative", "scale": {"domain": [-0.029, 1.024], "nice": false, "zero": false}, "axis": {"values": [0, 0.2, 0.4, 0.6, 0.8, 1], "format": ".2f"}, "title": null},
                         "color": {"field": "s", "type": "nominal", "scale": {"domain": ["m", "q", "a", "am", "k"], "range": ["#f2a0a6", "#f2a0a6", "#a0a0ee", "#a0a0ee", "#9ccc9c"]}, "legend": null},
                         "strokeDash": {"field": "s", "type": "nominal", "scale": {"domain": ["m", "q", "a", "am", "k"], "range": [[1, 0], [8, 5], [1, 0], [8, 5], [1, 0]]}, "legend": null},
                         "detail": {"field": "id", "type": "nominal"}}},
                      {"data": {"name": "dec"}, "transform": [{"filter": "datum.p==='D'"}], "mark": {"type": "rule", "color": "#f2b0b0", "strokeWidth": 1},
                       "encoding": {"x": {"field": "xlo", "type": "quantitative", "title": null}, "x2": {"field": "xhi"}, "y": {"field": "y", "type": "quantitative", "title": null}}},
                      {"data": {"name": "dec"}, "transform": [{"filter": "datum.p==='D'"}], "mark": {"type": "tick", "orient": "vertical", "color": "#f2b0b0", "size": 7, "thickness": 1},
                       "encoding": {"x": {"field": "xlo", "type": "quantitative", "title": null}, "y": {"field": "y", "type": "quantitative", "title": null}}},
                      {"data": {"name": "dec"}, "transform": [{"filter": "datum.p==='D'"}], "mark": {"type": "tick", "orient": "vertical", "color": "#f2b0b0", "size": 7, "thickness": 1},
                       "encoding": {"x": {"field": "xhi", "type": "quantitative", "title": null}, "y": {"field": "y", "type": "quantitative", "title": null}}},
                      {"data": {"name": "dec"}, "transform": [{"filter": "datum.p==='D'"}], "mark": {"type": "rule", "color": "#a8a8ee", "strokeWidth": 1},
                       "encoding": {"x": {"field": "x", "type": "quantitative", "title": null}, "y": {"field": "ylo", "type": "quantitative", "title": null}, "y2": {"field": "yhi"}}},
                      {"data": {"name": "dec"}, "transform": [{"filter": "datum.p==='D'"}], "mark": {"type": "tick", "orient": "horizontal", "color": "#a8a8ee", "size": 7, "thickness": 1},
                       "encoding": {"x": {"field": "x", "type": "quantitative", "title": null}, "y": {"field": "ylo", "type": "quantitative", "title": null}}},
                      {"data": {"name": "dec"}, "transform": [{"filter": "datum.p==='D'"}], "mark": {"type": "tick", "orient": "horizontal", "color": "#a8a8ee", "size": 7, "thickness": 1},
                       "encoding": {"x": {"field": "x", "type": "quantitative", "title": null}, "y": {"field": "yhi", "type": "quantitative", "title": null}}},
                      {"data": {"name": "diag"}, "mark": {"type": "line", "color": "#000", "strokeWidth": 1.3},
                       "encoding": {"x": {"field": "x", "type": "quantitative", "title": null}, "y": {"field": "y", "type": "quantitative", "title": null}}},
                      {"data": {"name": "dec"}, "transform": [{"filter": "datum.p==='D'"}], "mark": {"type": "point", "filled": true, "color": "#d8689c", "opacity": 0.8, "size": 50},
                       "encoding": {"x": {"field": "x", "type": "quantitative", "title": null}, "y": {"field": "y", "type": "quantitative", "title": null}}},
                      {"data": {"name": "dec"}, "transform": [{"filter": "datum.p==='D'"}], "mark": {"type": "point", "filled": true, "color": "#8a6cc8", "opacity": 0.35, "size": 50},
                       "encoding": {"x": {"field": "x", "type": "quantitative", "title": null}, "y": {"field": "y", "type": "quantitative", "title": null}}}
                    ]
                  },
                  {"width": 312, "height": 42, "data": {"name": "hist"}, "transform": [{"filter": "datum.p==='D'"}],
                   "mark": {"type": "rect", "color": "#c8c8c8"},
                   "encoding": {"x": {"field": "x0", "type": "quantitative", "scale": {"domain": [-0.03, 1.024], "nice": false, "zero": false}, "axis": null}, "x2": {"field": "x1"},
                     "y": {"field": "n", "type": "quantitative", "scale": {"domain": [0, 100], "nice": false}, "axis": null}, "y2": {"datum": 0}}}
                ]
              }
            ]
          }
        ]
      }
    ]
  },
  {
    "width": 779, "height": 175,
    "layer": [
      {"data": {"values": [{"label": "Predicted risk"}]},
       "mark": {"type": "text", "fontSize": 12, "align": "center", "baseline": "middle"},
       "encoding": {"x": {"datum": 52.4, "type": "quantitative", "scale": {"domain": [0, 100], "nice": false, "zero": false}, "axis": null},
         "y": {"datum": -1.52, "type": "quantitative", "scale": {"domain": [-2.3, 5.5], "nice": false, "zero": false, "reverse": true}, "axis": null},
         "text": {"field": "label"}}},
      {"data": {"name": "leg"}, "transform": [{"filter": "datum.c==='L'"}],
       "mark": {"type": "text", "fontSize": 13, "align": "left", "baseline": "middle"},
       "encoding": {"x": {"datum": 17.07, "type": "quantitative"}, "y": {"field": "r", "type": "quantitative"}, "text": {"field": "label"}}},
      {"data": {"name": "leg"}, "transform": [{"filter": "datum.c==='R'"}],
       "mark": {"type": "text", "fontSize": 13, "align": "left", "baseline": "middle"},
       "encoding": {"x": {"datum": 63.8, "type": "quantitative"}, "y": {"field": "r", "type": "quantitative"}, "text": {"field": "label"}}},
      {"data": {"name": "leg"}, "transform": [{"filter": "datum.c==='L' && datum.r>0"}],
       "mark": {"type": "rule", "strokeWidth": 2, "opacity": 0.8},
       "encoding": {"x": {"datum": 7.96, "type": "quantitative"}, "x2": {"datum": 14.76}, "y": {"field": "r", "type": "quantitative"},
         "color": {"field": "s", "type": "nominal", "scale": {"domain": ["m", "q", "a", "am", "k"], "range": ["#f2a0a6", "#f2a0a6", "#a0a0ee", "#a0a0ee", "#9ccc9c"]}, "legend": null},
         "strokeDash": {"field": "s", "type": "nominal", "scale": {"domain": ["m", "q", "a", "am", "k"], "range": [[1, 0], [8, 5], [1, 0], [8, 5], [1, 0]]}, "legend": null}}},
      {"data": {"name": "leg"}, "transform": [{"filter": "datum.k==='pb' || datum.k==='bb'"}],
       "mark": {"type": "rule", "strokeWidth": 1.5},
       "encoding": {"x": {"datum": 54.94, "type": "quantitative"}, "x2": {"datum": 61.87}, "y": {"field": "r", "type": "quantitative"},
         "stroke": {"field": "k", "type": "nominal", "scale": {"domain": ["pc", "pb", "bc", "bb"], "range": ["#e8909c", "#f0a8b0", "#9090e0", "#a8a8ee"]}, "legend": null}}},
      {"data": {"name": "leg"}, "transform": [{"filter": "datum.k==='pb' || datum.k==='bb'"}],
       "mark": {"type": "tick", "orient": "vertical", "size": 10, "thickness": 1.5},
       "encoding": {"x": {"datum": 54.94, "type": "quantitative"}, "y": {"field": "r", "type": "quantitative"},
         "fill": {"field": "k", "type": "nominal", "scale": {"domain": ["pc", "pb", "bc", "bb"], "range": ["#f4b0b8", "#f0a8b0", "#a8a8f0", "#a8a8ee"]}, "legend": null}}},
      {"data": {"name": "leg"}, "transform": [{"filter": "datum.k==='pb' || datum.k==='bb'"}],
       "mark": {"type": "tick", "orient": "vertical", "size": 10, "thickness": 1.5},
       "encoding": {"x": {"datum": 61.87, "type": "quantitative"}, "y": {"field": "r", "type": "quantitative"},
         "fill": {"field": "k", "type": "nominal", "scale": {"domain": ["pc", "pb", "bc", "bb"], "range": ["#f4b0b8", "#f0a8b0", "#a8a8f0", "#a8a8ee"]}, "legend": null}}},
      {"data": {"name": "leg"}, "transform": [{"filter": "datum.k==='pc' || datum.k==='bc'"}],
       "mark": {"type": "point", "filled": true, "size": 130, "strokeWidth": 1},
       "encoding": {"x": {"datum": 58.4, "type": "quantitative"}, "y": {"field": "r", "type": "quantitative"},
         "fill": {"field": "k", "type": "nominal", "scale": {"domain": ["pc", "pb", "bc", "bb"], "range": ["#f4b0b8", "#f0a8b0", "#a8a8f0", "#a8a8ee"]}, "legend": null},
         "stroke": {"field": "k", "type": "nominal", "scale": {"domain": ["pc", "pb", "bc", "bb"], "range": ["#e8909c", "#f0a8b0", "#9090e0", "#a8a8ee"]}, "legend": null}}}
    ]
  }
]
}
